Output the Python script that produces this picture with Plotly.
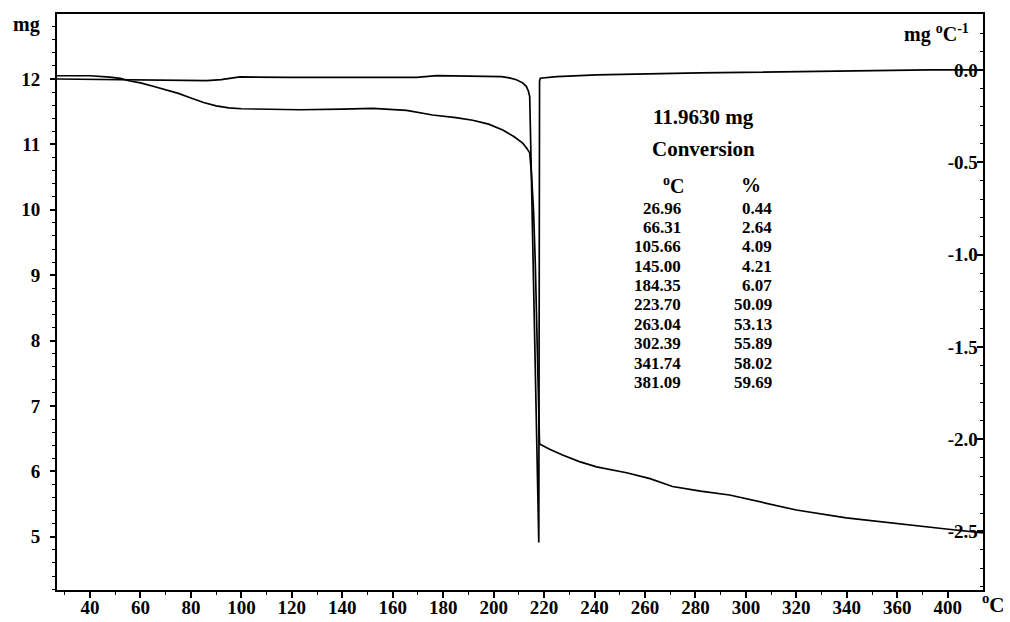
import plotly.graph_objects as go

# ---- data ----
tg_temp = [26.9, 40, 47.9, 52, 55.8, 60, 65, 70, 75, 80, 85, 90, 95, 100, 107.3, 123.2, 140,
           152.1, 165.5, 175.8, 185, 191.7, 198, 203.6, 208, 211.5, 213, 214.3, 215.0,
           215.8, 216.5, 217.2, 217.8, 218.2, 222.2, 227.3, 234, 240.8, 252.7, 262,
           270.9, 282, 293.5, 306, 320.0, 339.8, 359.6, 379.4, 394]
tg_mass = [12.05, 12.05, 12.03, 12.01, 11.97, 11.94, 11.89, 11.84, 11.78, 11.71, 11.64,
           11.59, 11.56, 11.545, 11.54, 11.53, 11.54, 11.55, 11.52, 11.45, 11.41, 11.37,
           11.31, 11.22, 11.12, 11.02, 10.95, 10.87, 10.55, 10.0, 9.2, 8.0, 6.9, 6.42,
           6.34, 6.25, 6.15, 6.07, 5.98, 5.89, 5.77, 5.70, 5.64, 5.53, 5.41, 5.29, 5.20,
           5.12, 5.06]

dtg_temp = [26.9, 55.8, 86.3, 92, 96, 99.4, 119.2, 145, 169.5, 177.4, 198.4, 203, 206.3,
            209, 211.5, 213, 213.8, 214.3, 215.0, 215.8, 216.6, 217.4, 217.9, 218.2,
            218.5, 225, 240.8, 281.6, 320.0, 372.7, 394]
dtg_val = [-0.049, -0.054, -0.058, -0.052, -0.044, -0.038, -0.040, -0.040, -0.040, -0.031,
           -0.033, -0.036, -0.043, -0.053, -0.070, -0.090, -0.115, -0.146, -0.60, -1.14,
           -1.79, -2.33, -2.56, -0.06, -0.045, -0.036, -0.027, -0.016, -0.009, 0.0, 0.0]

x_tickvals = [40, 60, 80, 100, 120, 140, 160, 180, 200, 220, 240, 260, 280, 300, 320, 340, 360, 380]
x_ticktext = ["40", "60", "80", "100", "120", "140", "160", "180", "200", "220", "240",
              "260", "280", "300", "320", "340", "360", "400"]
y_tickvals = [5, 6, 7, 8, 9, 10, 11, 12]
y_ticktext = ["5", "6", "7", "8", "9", "10", "11", "12"]
y2_tickvals = [0.0, -0.5, -1.0, -1.5, -2.0, -2.5]
y2_ticktext = ["0.0", "-0.5", "-1.0", "-1.5", "-2.0", "-2.5"]

sample_label = "11.9630 mg"
table_title = "Conversion"
conv_temp = ["26.96", "66.31", "105.66", "145.00", "184.35", "223.70", "263.04", "302.39", "341.74", "381.09"]
conv_pct = ["0.44", "2.64", "4.09", "4.21", "6.07", "50.09", "53.13", "55.89", "58.02", "59.69"]

# ---- layout geometry ----
W, H = 1010, 622
ML, MR, MT, MB = 57, 27, 14, 32
PW, PH = W - ML - MR, H - MT - MB


def px(x):
    return (x - ML) / PW


def py(y):
    return (H - MB - y) / PH


FONT = "Liberation Serif"
tickfont = dict(family=FONT, size=19, color="black", weight=700)

fig = go.Figure()
fig.add_trace(go.Scatter(x=tg_temp, y=tg_mass, mode="lines",
                         line=dict(color="black", width=1.7), yaxis="y", showlegend=False))
fig.add_trace(go.Scatter(x=dtg_temp, y=dtg_val, mode="lines",
                         line=dict(color="black", width=1.7), yaxis="y2", showlegend=False))

fig.update_layout(
    width=W, height=H,
    margin=dict(l=ML, r=MR, t=MT, b=MB, autoexpand=False),
    paper_bgcolor="white", plot_bgcolor="white",
    xaxis=dict(range=[26.9, 394], tickmode="array", tickvals=x_tickvals, ticktext=x_ticktext,
               showline=True, linecolor="black", linewidth=2, mirror=True,
               ticks="outside", ticklen=6, tickwidth=1.5, tickcolor="black",
               minor=dict(dtick=10, tick0=0, ticks="outside", ticklen=3, tickcolor="black", tickwidth=1),
               showgrid=False, zeroline=False, tickfont=tickfont, ticklabelstandoff=-7,
               automargin=False),
    yaxis=dict(range=[4.187, 12.994], tickmode="array", tickvals=y_tickvals, ticktext=y_ticktext,
               showline=True, linecolor="black", linewidth=2,
               ticks="outside", ticklen=5, tickwidth=1.5, tickcolor="black",
               minor=dict(dtick=0.2, tick0=0, ticks="outside", ticklen=3, tickcolor="black", tickwidth=1),
               showgrid=False, zeroline=False, tickfont=tickfont, ticklabelstandoff=6,
               automargin=False),
    yaxis2=dict(range=[-2.817, 0.303], overlaying="y", side="right",
                tickmode="array", tickvals=y2_tickvals, ticktext=y2_ticktext,
                showline=True, linecolor="black", linewidth=2,
                ticks="inside", ticklen=6, tickwidth=1.5, tickcolor="black",
                ticklabelposition="inside",
                minor=dict(dtick=0.1, tick0=0, ticks="inside", ticklen=3, tickcolor="black", tickwidth=1),
                showgrid=False, zeroline=False, tickfont=tickfont, automargin=False),
)

ann = []


def add_text(text, x, y, size, xanchor="center"):
    ann.append(dict(text=text, x=px(x), y=py(y), xref="paper", yref="paper",
                    xanchor=xanchor, yanchor="middle", showarrow=False,
                    font=dict(family=FONT, size=size, color="black", weight=700)))


add_text("mg", 27, 24, 20)
add_text("mg <sup>o</sup>C<sup>-1</sup>", 936, 34, 20)
add_text("<sup>o</sup>C", 993, 603, 21)
add_text(sample_label, 703, 117, 21)
add_text(table_title, 703, 149, 21)
add_text("<sup>o</sup>C", 686, 185, 20, xanchor="right")
add_text("%", 751, 185, 20)
for i, (t, p) in enumerate(zip(conv_temp, conv_pct)):
    yy = 208 + i * 19.4
    add_text(t, 683, yy, 17, xanchor="right")
    add_text(p, 774, yy, 17, xanchor="right")

fig.update_layout(annotations=ann)
fig.write_html("out.html")
